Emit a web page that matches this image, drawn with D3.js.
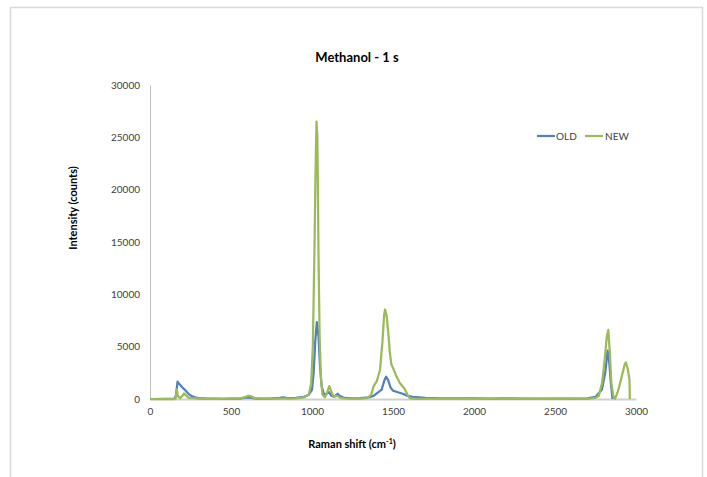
<!DOCTYPE html>
<html>
<head>
<meta charset="utf-8">
<script src="https://cdn.jsdelivr.net/npm/d3@7"></script>
<style>
  html, body { margin: 0; padding: 0; background: #ffffff; }
  svg { display: block; }
  text { font-family: Lato, "Open Sans", "Liberation Sans", sans-serif; }
</style>
</head>
<body>
<svg id="chart" width="707" height="477"></svg>
<script>
// ---- Data ----
const title = "Methanol - 1 s";
const seriesNames = ["OLD", "NEW"];
const xTicks = [0, 500, 1000, 1500, 2000, 2500, 3000];
const yTicks = [0, 5000, 10000, 15000, 20000, 25000, 30000];

const oldShift = [0, 100, 150, 160, 170, 180, 200, 220, 240, 260, 280, 300, 350, 400, 450, 500, 550, 590, 610, 630, 660, 700, 750, 800, 820, 850, 900, 950, 980, 1000, 1010, 1020, 1030, 1040, 1050, 1060, 1075, 1090, 1105, 1120, 1140, 1158, 1170, 1200, 1250, 1300, 1350, 1380, 1410, 1430, 1445, 1457, 1470, 1485, 1500, 1530, 1560, 1590, 1620, 1700, 1800, 1900, 2000, 2100, 2200, 2300, 2400, 2500, 2600, 2700, 2750, 2790, 2810, 2825, 2835, 2845, 2855];
const oldIntensity = [0, 10, 20, 300, 1650, 1450, 1100, 800, 450, 250, 150, 80, 40, 30, 20, 30, 40, 120, 160, 100, 30, 40, 60, 100, 150, 80, 100, 200, 400, 900, 2500, 5500, 7350, 6000, 3000, 1200, 400, 500, 650, 300, 250, 500, 300, 100, 60, 80, 150, 300, 650, 900, 1700, 2130, 1800, 1100, 800, 650, 500, 300, 200, 100, 60, 50, 60, 40, 50, 30, 40, 30, 40, 50, 200, 900, 2500, 4620, 3500, 1500, 0];

const newShift = [0, 100, 150, 160, 165, 172, 185, 200, 210, 225, 240, 300, 400, 500, 560, 590, 605, 625, 650, 700, 800, 900, 950, 980, 995, 1005, 1015, 1022, 1028, 1033, 1036, 1040, 1047, 1055, 1065, 1080, 1095, 1107, 1120, 1135, 1150, 1160, 1175, 1200, 1300, 1340, 1365, 1380, 1400, 1420, 1435, 1445, 1451, 1460, 1470, 1480, 1490, 1502, 1520, 1543, 1570, 1590, 1605, 1650, 1800, 2000, 2200, 2400, 2600, 2700, 2750, 2770, 2790, 2805, 2820, 2829, 2838, 2848, 2860, 2870, 2890, 2910, 2930, 2938, 2950, 2960, 2962];
const newIntensity = [0, 0, 0, 100, 930, 300, 80, 300, 540, 300, 100, 30, 20, 40, 60, 200, 320, 250, 60, 30, 40, 60, 150, 400, 1500, 5000, 14000, 22000, 26500, 25000, 21000, 14000, 6000, 2000, 400, 150, 700, 1240, 700, 200, 300, 280, 100, 60, 40, 80, 400, 1200, 1700, 2800, 5500, 8000, 8550, 8000, 6500, 4500, 3300, 2900, 2200, 1500, 1000, 400, 50, 20, 30, 20, 30, 20, 30, 20, 100, 300, 1500, 3500, 6000, 6600, 4500, 1500, 300, 0, 800, 2000, 3300, 3500, 2800, 1800, 0];

const colors = ["#4F81BD", "#9BBB59"];

// ---- Layout ----
const svg = d3.select("#chart");
const plot = { left: 150, right: 636, top: 85, bottom: 399 };

const x = d3.scaleLinear().domain([0, 3000]).range([plot.left, plot.right]);
const y = d3.scaleLinear().domain([0, 30000]).range([plot.bottom, plot.top]);

// chart border
svg.append("rect")
  .attr("x", 10.5).attr("y", 7.5)
  .attr("width", 692).attr("height", 500)
  .attr("fill", "none").attr("stroke", "#D9D9D9").attr("stroke-width", 1.5);

// title
svg.append("text")
  .attr("x", 357).attr("y", 62)
  .attr("text-anchor", "middle")
  .attr("font-size", 13).attr("font-weight", "bold")
  .attr("fill", "#000")
  .text(title);

// y axis
const yAxis = d3.axisLeft(y).tickValues(yTicks).tickSize(0).tickPadding(10).tickFormat(d3.format("d"));
const gy = svg.append("g").attr("transform", `translate(${plot.left},0)`).call(yAxis);
gy.select(".domain").attr("stroke", "#BFBFBF").attr("stroke-width", 1);
gy.selectAll("text").attr("font-size", 10).attr("fill", "#404040")
  .style("font-family", "Lato, 'Open Sans', sans-serif");

// x axis
const xAxis = d3.axisBottom(x).tickValues(xTicks).tickSize(0).tickPadding(9).tickFormat(d3.format("d"));
const gx = svg.append("g").attr("transform", `translate(0,${plot.bottom})`).call(xAxis);
gx.select(".domain").attr("stroke", "#D0D0D0").attr("stroke-width", 2);
gx.selectAll("text").attr("font-size", 10).attr("fill", "#404040")
  .style("font-family", "Lato, 'Open Sans', sans-serif");

// axis titles
const xt = svg.append("text")
  .attr("x", 352).attr("y", 448)
  .attr("text-anchor", "middle")
  .attr("font-size", 11).attr("font-weight", "bold").attr("fill", "#000");
xt.append("tspan").text("Raman shift (cm");
xt.append("tspan").attr("font-size", 7).attr("dy", -4).text("-1");
xt.append("tspan").attr("dy", 4).text(")");

svg.append("text")
  .attr("transform", "translate(77,208) rotate(-90)")
  .attr("text-anchor", "middle")
  .attr("font-size", 11).attr("font-weight", "bold").attr("fill", "#000")
  .text("Intensity (counts)");

// lines
const line = d3.line().x(d => x(d[0])).y(d => y(d[1]));
const oldData = oldShift.map((s, i) => [s, oldIntensity[i]]);
const newData = newShift.map((s, i) => [s, newIntensity[i]]);

svg.append("path").datum(oldData)
  .attr("d", line).attr("fill", "none")
  .attr("stroke", colors[0]).attr("stroke-width", 2.25).attr("stroke-linejoin", "round");
svg.append("path").datum(newData)
  .attr("d", line).attr("fill", "none")
  .attr("stroke", colors[1]).attr("stroke-width", 2.25).attr("stroke-linejoin", "round");

// legend
const legendPos = [{ x1: 537, tx: 556 }, { x1: 585, tx: 605 }];
seriesNames.forEach((name, i) => {
  const g = svg.append("g");
  g.append("line")
    .attr("x1", legendPos[i].x1).attr("x2", legendPos[i].x1 + 18)
    .attr("y1", 136).attr("y2", 136)
    .attr("stroke", colors[i]).attr("stroke-width", 2.25);
  g.append("text")
    .attr("x", legendPos[i].tx).attr("y", 139.5)
    .attr("font-size", 10).attr("fill", "#404040")
    .text(name);
});
</script>
</body>
</html>
